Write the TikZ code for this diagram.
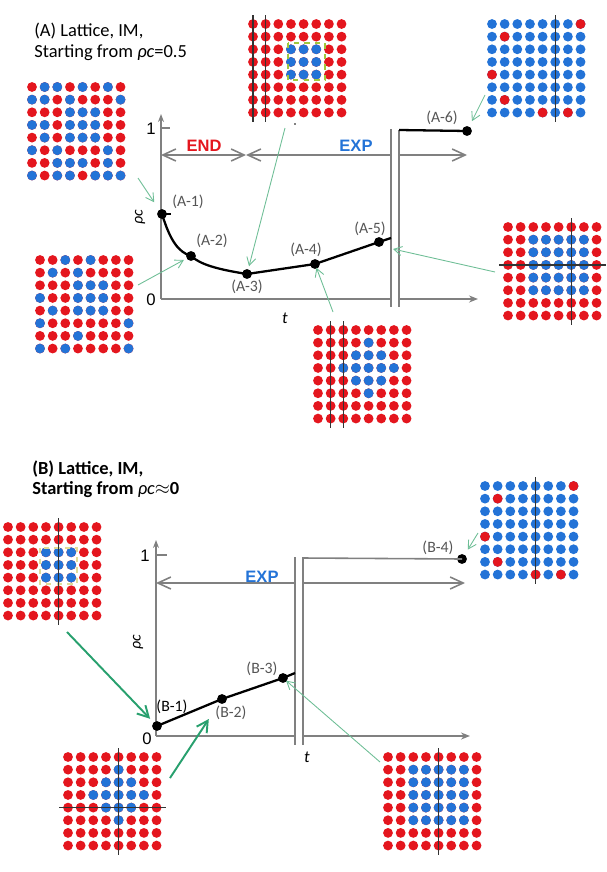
\documentclass[tikz,border=0pt]{standalone}
\usepackage{fontspec}
\setmainfont{Carlito}
\newfontfamily\arialfont{Liberation Sans}
\usepackage{xcolor}
\usepackage{tikz}
\usetikzlibrary{arrows.meta}

\definecolor{latred}{RGB}{228,22,30}
\definecolor{latblue}{RGB}{35,115,215}
\definecolor{axisgray}{RGB}{128,128,128}
\definecolor{lblgray}{RGB}{85,85,85}
\definecolor{annlight}{RGB}{110,190,150}
\definecolor{anndark}{RGB}{40,160,110}
\definecolor{boxyel}{RGB}{160,200,60}
\definecolor{boxfaint}{RGB}{225,220,150}

\newcommand{\latsp}{12.65}
% 8x8 lattice: origin, base colour, other colour, cells of other colour
\newcommand{\lattice}[4]{%
  \begin{scope}[shift={#1}]
    \foreach \i in {0,...,7}
      \foreach \j in {0,...,7}
        \fill[#2] (\i*\latsp,\j*\latsp) circle[radius=4.9];
    \foreach \i/\j in {#4}
      \fill[#3] (\i*\latsp,\j*\latsp) circle[radius=4.9];
  \end{scope}}
\newcommand{\latv}[2]{%
  \begin{scope}[shift={#1}]
    \draw[latline] (#2*\latsp,-9) -- (#2*\latsp,{7*\latsp+9});
  \end{scope}}
\newcommand{\lath}[2]{%
  \begin{scope}[shift={#1}]
    \draw[latline] (-9,#2*\latsp) -- ({7*\latsp+9},#2*\latsp);
  \end{scope}}

\begin{document}
\begin{tikzpicture}[
    x=0.02cm, y=-0.02cm,
    >=Stealth,
    axis/.style={draw=axisgray, line width=0.9pt},
    yaxis/.style={axis, -{Stealth[length=1.6mm,width=1.2mm]}},
    xaxis/.style={axis, -{Stealth[length=1.8mm,width=1.4mm]}},
    spanboth/.style={axis, {Straight Barb[length=2.6mm,width=2.4mm]}-{Straight Barb[length=2.6mm,width=2.4mm]}},
    spanl/.style={axis, {Straight Barb[length=2.6mm,width=2.4mm]}-},
    spanr/.style={axis, -{Straight Barb[length=2.6mm,width=2.4mm]}},
    curve/.style={draw=black, line width=1.3pt},
    pt/.style={circle, fill=black, inner sep=0pt, minimum size=5.6pt},
    ann/.style={draw=annlight, line width=0.5pt, -{Straight Barb[length=1.6mm,width=1.8mm]}},
    annthick/.style={draw=anndark, line width=1.1pt, -{Straight Barb[length=2.2mm,width=2.4mm]}},
    latline/.style={draw=black!80, line width=0.7pt},
    ptlbl/.style={font=\fontsize{9}{10}\selectfont, text=lblgray, inner sep=0pt},
    numlbl/.style={font=\arialfont\fontsize{9.5}{10}\selectfont, inner sep=0pt},
    phase/.style={font=\arialfont\bfseries\fontsize{9.4}{10}\selectfont, inner sep=0pt},
    title/.style={font=\fontsize{10.5}{11.6}\selectfont, align=left, anchor=west, inner sep=0pt},
]
\useasboundingbox (0,0) rectangle (606,872);

% ===========================================================================
%  (A) starting from rho_c = 0.5
% ===========================================================================
\node[title] (titA) at (34,42) {(A) Lattice, IM,\\Starting from \textit{ρc}=0.5};

% Axes
\coordinate (oA) at (161,299);
\coordinate (brkAl) at (391,299);
\coordinate (brkAr) at (399,299);
\draw[yaxis] (oA) -- (161,114);
\draw[axis] (161,128) -- (170,128);
\draw[axis] (oA) -- (brkAl);
\draw[xaxis] (brkAr) -- (478,299);
\draw[axis] (391,129) -- (391,307);
\draw[axis] (399,130) -- (399,307);
\node[numlbl] (oneA) at (151,129) {1};
\node[numlbl] (zeroA) at (151,300) {0};
\node[rotate=90, font=\itshape\fontsize{9}{10}\selectfont] (rhoA) at (140,217) {ρc};
\node[font=\itshape\fontsize{9.5}{10}\selectfont] (tA) at (285,318) {t};

% END / EXP spans
\coordinate (endL) at (161,155);
\coordinate (endR) at (246,155);
\coordinate (expAl) at (391,155);
\coordinate (expAr) at (399,155);
\coordinate (expAe) at (467,155);
\draw[spanboth] (endL) -- (endR);
\draw[spanl] (endR) -- (expAl);
\draw[spanr] (expAr) -- (expAe);
\node[phase, text=latred] (endlbl) at (204,146) {END};
\node[phase, text=latblue] (explblA) at (356,146) {EXP};

% Curve
\node[pt] (A1) at (162,214) {};
\node[pt] (A2) at (191,256) {};
\node[pt] (A3) at (247,274) {};
\node[pt] (A4) at (315,264) {};
\node[pt] (A5) at (379,242) {};
\node[pt] (A6) at (467,131) {};
\coordinate (A5e) at (391,238);
\draw[curve] (A1.center) .. controls (170,240) and (178,252) .. (A2.center)
    .. controls (200,264) and (215,269) .. (A3.center)
    -- (A4.center) -- (A5.center) -- (A5e);
\draw[curve, line width=0.7pt] (A1.center) -- ++(9,0);
\draw[curve] (399,130) -- (A6.center);
\node[ptlbl] (lA1) at (188,202) {(A-1)};
\node[ptlbl] (lA2) at (212,241) {(A-2)};
\node[ptlbl] (lA3) at (247,287) {(A-3)};
\node[ptlbl] (lA4) at (306,250) {(A-4)};
\node[ptlbl] (lA5) at (370,229) {(A-5)};
\node[ptlbl] (lA6) at (442,118) {(A-6)};

% Lattices
\lattice{(32,87)}{latred}{latblue}{1/0,2/0,4/0,6/0,0/1,1/1,3/1,7/1,3/2,4/2,5/2,0/3,1/3,3/3,4/3,5/3,1/4,3/4,4/4,5/4,0/5,2/5,6/5,2/6,3/6,4/6,6/6,0/7,2/7,3/7,5/7,6/7,7/7}
\lattice{(40,260)}{latred}{latblue}{2/0,4/0,1/1,3/1,3/2,4/2,5/2,0/3,3/3,4/3,5/3,1/4,3/4,4/4,5/4,0/5,7/5,3/6,0/7,2/7,7/7}
\lattice{(253,24)}{latred}{latblue}{3/2,4/2,5/2,3/3,4/3,5/3,3/4,4/4,5/4}
\latv{(253,24)}{0}
\latv{(253,24)}{1}
\draw[boxyel, dashed, line width=0.8pt] (288,43) rectangle (325,80);
\fill[black] (295,124) circle[radius=0.8];
\lattice{(492,24)}{latblue}{latred}{7/0,1/1,0/4,1/6,4/7,6/7}
\latv{(492,24)}{5}
\lattice{(318,330)}{latred}{latblue}{4/1,3/2,4/2,5/2,2/3,3/3,4/3,5/3,6/3,3/4,4/4,5/4,4/5}
\latv{(318,330)}{1}
\latv{(318,330)}{2}
\lattice{(508,227)}{latred}{latblue}{2/1,3/1,4/1,5/1,6/1,2/2,3/2,4/2,5/2,6/2,2/3,3/3,4/3,5/3,6/3,2/4,3/4,4/4,5/4,6/4,2/5,3/5,4/5,5/5,6/5}
\latv{(508,227)}{5}
\lath{(508,227)}{3}

% Lattice-to-point arrows
\coordinate (a1s) at (138,178);
\coordinate (a2s) at (138,285);
\coordinate (a3s) at (285,128);
\coordinate (a4s) at (333,312);
\coordinate (a5s) at (495,272);
\coordinate (a5e) at (393,249);
\coordinate (a6s) at (485,95);
\draw[ann, shorten >=2.8mm] (a1s) -- (A1.center);
\draw[ann, shorten >=1.6mm] (a2s) -- (A2.center);
\draw[ann, shorten >=1.6mm] (a3s) -- (A3.center);
\draw[ann, shorten >=0.8mm] (a4s) -- (A4.center);
\draw[ann] (a5s) -- (a5e);
\draw[ann, shorten >=2.2mm] (a6s) -- (A6.center);

% ===========================================================================
%  (B) starting from rho_c ~ 0
% ===========================================================================
\node[title, font=\bfseries\fontsize{10.5}{11.6}\selectfont] (titB) at (32,479)
    {(B) Lattice, IM,\\Starting from {\mdseries\textit{ρc}}$\approx$0};

% Axes
\coordinate (oB) at (156,736);
\coordinate (brkBl) at (295,736);
\coordinate (brkBr) at (303,736);
\draw[yaxis] (oB) -- (156,540);
\draw[axis] (156,555) -- (167,555);
\draw[axis] (oB) -- (brkBl);
\draw[xaxis] (brkBr) -- (470,736);
\draw[axis] (295,557) -- (295,745);
\draw[axis] (303,557) -- (303,745);
\node[numlbl] (oneB) at (145,556) {1};
\node[numlbl] (zeroB) at (147,739) {0};
\node[rotate=90, font=\itshape\fontsize{9}{10}\selectfont] (rhoB) at (138,642) {ρc};
\node[font=\itshape\fontsize{9.5}{10}\selectfont] (tB) at (307,757) {t};

% EXP span
\coordinate (expBl) at (156,583);
\coordinate (expBm) at (295,583);
\coordinate (expBn) at (303,583);
\coordinate (expBe) at (465,583);
\draw[spanl] (expBl) -- (expBm);
\draw[spanr] (expBn) -- (expBe);
\node[phase, text=latblue] (explblB) at (262,577) {EXP};

% Curve
\node[pt] (B1) at (157,726) {};
\node[pt] (B2) at (222,699) {};
\node[pt] (B3) at (283,678) {};
\node[pt] (B4) at (462,559) {};
\coordinate (B3e) at (295,673);
\draw[curve] (B1.center) -- (B2.center) -- (B3.center) -- (B3e);
\draw[axis] (303,558) -- (B4.center);
\node[ptlbl, text=black] (lB1) at (172,707) {(B-1)};
\node[ptlbl] (lB2) at (231,713) {(B-2)};
\node[ptlbl] (lB3) at (262,669) {(B-3)};
\node[ptlbl] (lB4) at (438,548) {(B-4)};

% Lattices
\lattice{(8,527)}{latred}{latblue}{3/2,4/2,5/2,3/3,4/3,5/3,3/4,4/4,5/4}
\draw[boxfaint, dashed, line width=0.6pt] (40,548) rectangle (77,584);
\latv{(8,527)}{4}
\lattice{(485,486)}{latblue}{latred}{7/0,1/1,0/4,1/6,4/7,6/7}
\latv{(485,486)}{4}
\lattice{(68,757)}{latred}{latblue}{4/1,3/2,4/2,5/2,2/3,3/3,4/3,5/3,6/3,3/4,4/4,5/4,4/5}
\latv{(68,757)}{4}
\lath{(68,757)}{4}
\lattice{(388,757)}{latred}{latblue}{2/1,3/1,4/1,5/1,6/1,2/2,3/2,4/2,5/2,6/2,2/3,3/3,4/3,5/3,6/3,2/4,3/4,4/4,5/4,6/4,2/5,3/5,4/5,5/5,6/5}
\latv{(388,757)}{4}

% Lattice-to-point arrows
\coordinate (b1s) at (67,632);
\coordinate (b2s) at (170,778);
\coordinate (b3s) at (380,762);
\coordinate (b4s) at (478,533);
\draw[annthick, shorten >=2mm] (b1s) -- (B1.center);
\draw[annthick, shorten >=4.8mm] (b2s) -- (B2.center);
\draw[ann, shorten >=0.8mm] (b3s) -- (B3.center);
\draw[ann, shorten >=2.2mm] (b4s) -- (B4.center);

\end{tikzpicture}
\end{document}
